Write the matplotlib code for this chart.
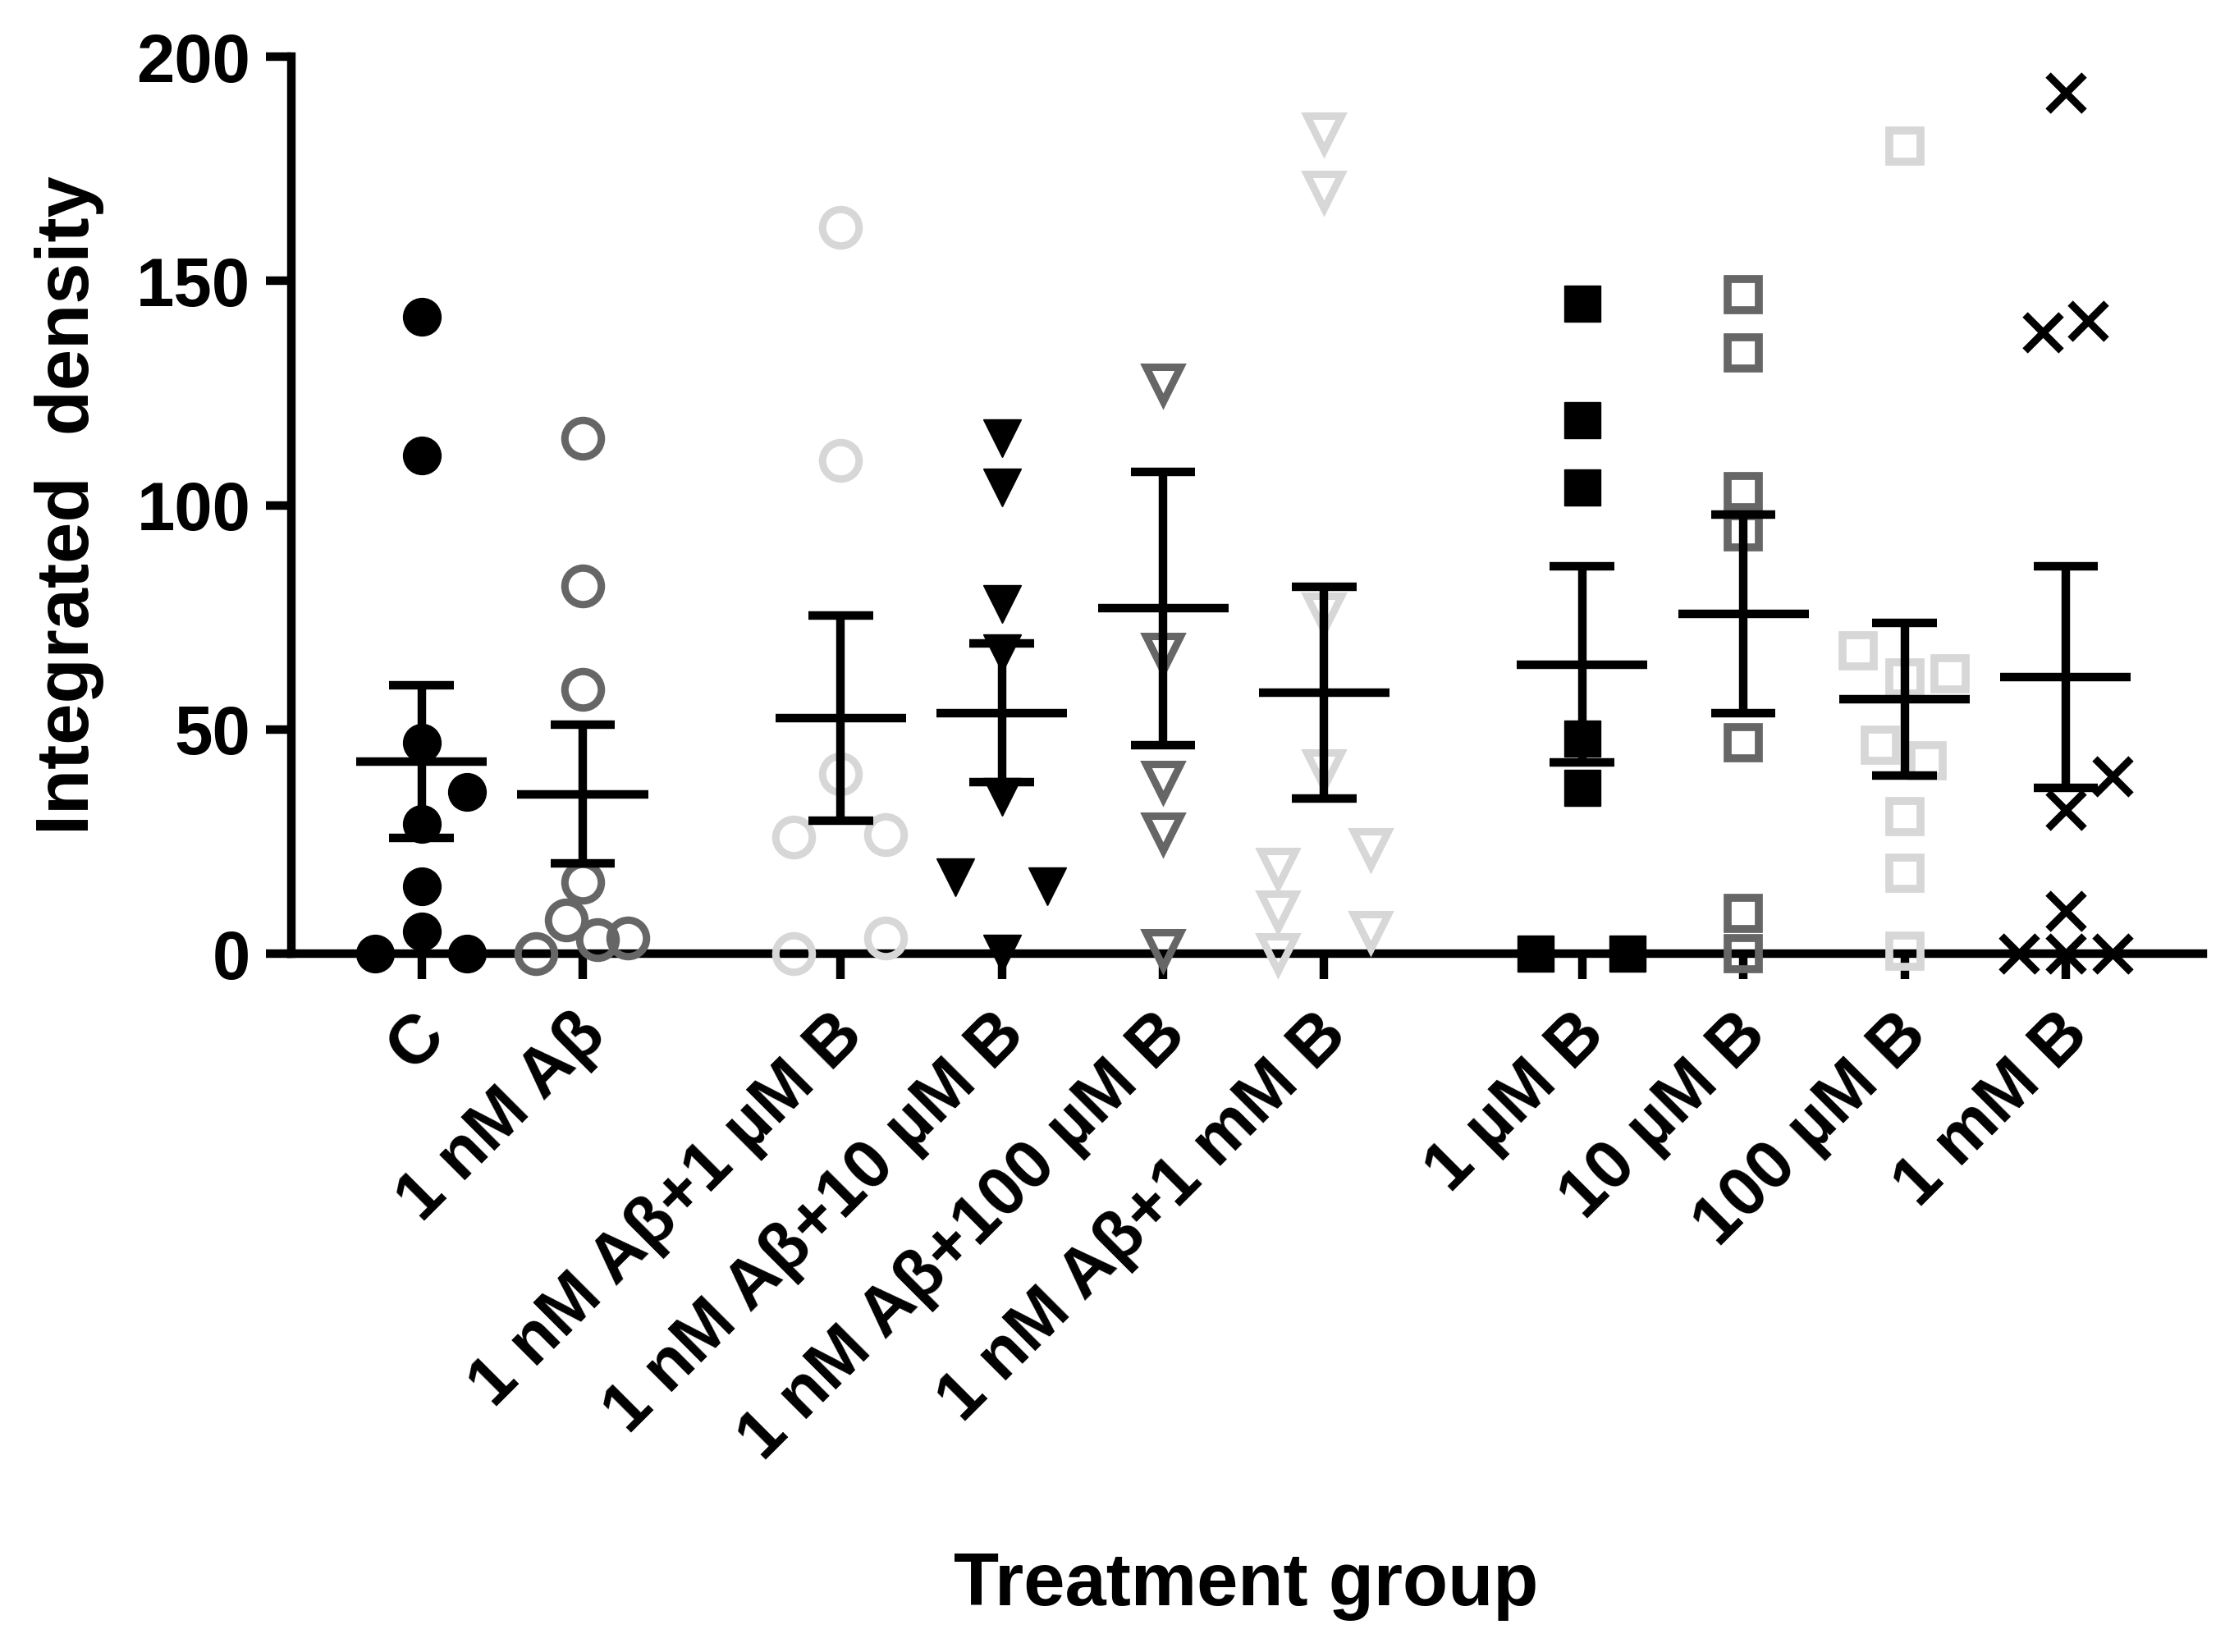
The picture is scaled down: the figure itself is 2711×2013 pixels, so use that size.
import numpy as np
import matplotlib
matplotlib.use("Agg")
import matplotlib.pyplot as plt
import matplotlib.transforms as mtransforms

plt.rcParams['font.family'] = ['Liberation Sans', 'DejaVu Sans']
plt.rcParams['font.weight'] = 'bold'

groups = ['C', '1 nM Aβ', '1 nM Aβ+1 µM B', '1 nM Aβ+10 µM B', '1 nM Aβ+100 µM B',
          '1 nM Aβ+1 mM B', '1 µM B', '10 µM B', '100 µM B', '1 mM B']

# values, with the sideways spread of each point (in group units)
c_vals = [142, 111, 47, 36, 29, 15, 5, 0, 0]
c_dx = [0, 0, 0, 0.28, 0, 0, 0, -0.29, 0.28]
ab_vals = [115, 82, 59, 16, 7.5, 3.2, 3.5, 0]
ab_dx = [0, 0, 0, 0, -0.10, 0.09, 0.28, -0.29]
ab1u_vals = [162, 110, 40, 26, 26.5, 3.5, 0]
ab1u_dx = [0, 0, 0, -0.29, 0.28, 0.28, -0.29]
ab10u_vals = [115, 104, 78, 67, 35, 17, 15, 0]
ab10u_dx = [0, 0, 0, 0, 0, -0.29, 0.28, 0]
ab100u_vals = [127, 67, 38.5, 27, 1]
ab100u_dx = [0, 0, 0, 0, 0]
ab1m_vals = [183, 170, 76, 41, 19, 9.5, 0, 23.5, 5]
ab1m_dx = [0, 0, 0, 0, -0.29, -0.29, -0.29, 0.29, 0.29]
b1u_vals = [145, 119, 104, 48, 37, 0, 0]
b1u_dx = [0, 0, 0, 0, 0, -0.29, 0.28]
b10u_vals = [147, 134, 103, 94, 47, 9, 0]
b10u_dx = [0, 0, 0, 0, 0, 0, 0]
b100u_vals = [180, 67.5, 61.5, 62.5, 46.5, 43, 30.5, 18, 0.5]
b100u_dx = [0, -0.29, 0, 0.28, -0.15, 0.14, 0, 0, 0]
b1m_vals = [192, 138.5, 141, 39.5, 32, 9.5, 0, 0, 0]
b1m_dx = [0, -0.14, 0.14, 0.29, 0, 0, -0.29, 0, 0.29]

all_vals = [c_vals, ab_vals, ab1u_vals, ab10u_vals, ab100u_vals,
            ab1m_vals, b1u_vals, b10u_vals, b100u_vals, b1m_vals]
all_dx = [c_dx, ab_dx, ab1u_dx, ab10u_dx, ab100u_dx,
          ab1m_dx, b1u_dx, b10u_dx, b100u_dx, b1m_dx]

# mean and SEM as drawn
means = [42.8, 35.6, 52.5, 53.7, 77.0, 58.2, 64.5, 75.8, 56.7, 61.6]
sems = [17.0, 15.5, 22.9, 15.4, 30.5, 23.6, 21.8, 22.1, 17.0, 24.7]

# group positions, with gaps between the three blocks
gap = 1.6
xpos = [0, 1, 1 + gap, 2 + gap, 3 + gap, 4 + gap,
        4 + 2 * gap, 5 + 2 * gap, 6 + 2 * gap, 7 + 2 * gap]

dark = '#666666'
light = '#d7d7d7'
styles = [
    dict(marker='o', ms=33, mfc='black', mec='black', mew=1),
    dict(marker='o', ms=32, mfc='none', mec=dark, mew=6.5),
    dict(marker='o', ms=32, mfc='none', mec=light, mew=6.5),
    dict(marker='v', ms=33, mfc='black', mec='black', mew=1),
    dict(marker='v', ms=30, mfc='none', mec=dark, mew=6.5),
    dict(marker='v', ms=30, mfc='none', mec=light, mew=6.5),
    dict(marker='s', ms=32, mfc='black', mec='black', mew=1),
    dict(marker='s', ms=28, mfc='none', mec=dark, mew=7),
    dict(marker='s', ms=28, mfc='none', mec=light, mew=7),
    dict(marker='x', ms=31, mfc='none', mec='black', mew=6.5),
]

fig = plt.figure(figsize=(27.11, 20.13), dpi=100)
ax = fig.add_axes([0.131, 0.4227, 0.990 - 0.131, 0.9657 - 0.4227])

lw = 7.5
for i in range(len(groups)):
    x = xpos[i]
    y = np.array(all_vals[i])
    xs = x + np.array(all_dx[i])
    ax.plot(xs, y, linestyle='none', clip_on=False, zorder=3, **styles[i])
    m, s = means[i], sems[i]
    ax.plot([x, x], [m - s, m + s], color='black', lw=lw, solid_capstyle='butt', zorder=4)
    ax.plot([x - 0.2, x + 0.2], [m + s, m + s], color='black', lw=lw, solid_capstyle='butt', zorder=4)
    ax.plot([x - 0.2, x + 0.2], [m - s, m - s], color='black', lw=lw, solid_capstyle='butt', zorder=4)
    ax.plot([x - 0.405, x + 0.405], [m, m], color='black', lw=lw, solid_capstyle='butt', zorder=4)

ax.set_xlim(-0.807, 11.05)
ax.set_ylim(0, 200)
ax.spines['top'].set_visible(False)
ax.spines['right'].set_visible(False)
ax.spines['left'].set_linewidth(lw)
ax.spines['bottom'].set_linewidth(lw)
ax.set_yticks([0, 50, 100, 150, 200])
ax.set_xticks(xpos)
ax.set_xticklabels(groups, rotation=45, ha='right', va='center', rotation_mode='anchor')
ax.tick_params(axis='both', length=22, width=lw, labelsize=60)
ax.tick_params(axis='y', pad=14)
ax.tick_params(axis='x', pad=40)
shift = mtransforms.ScaledTranslation(0.15, 0, fig.dpi_scale_trans)
for lab in ax.get_xticklabels():
    lab.set_fontweight('bold')
    lab.set_transform(lab.get_transform() + shift)
for lab in ax.get_yticklabels():
    lab.set_fontweight('bold')

fig.text(0.031, 0.694, 'Integrated  density', rotation=90, ha='center', va='center',
         fontsize=65, fontweight='bold')
fig.text(0.56, 0.04, 'Treatment group', ha='center', va='center',
         fontsize=65, fontweight='bold')

fig.savefig('out.png', dpi=100)
